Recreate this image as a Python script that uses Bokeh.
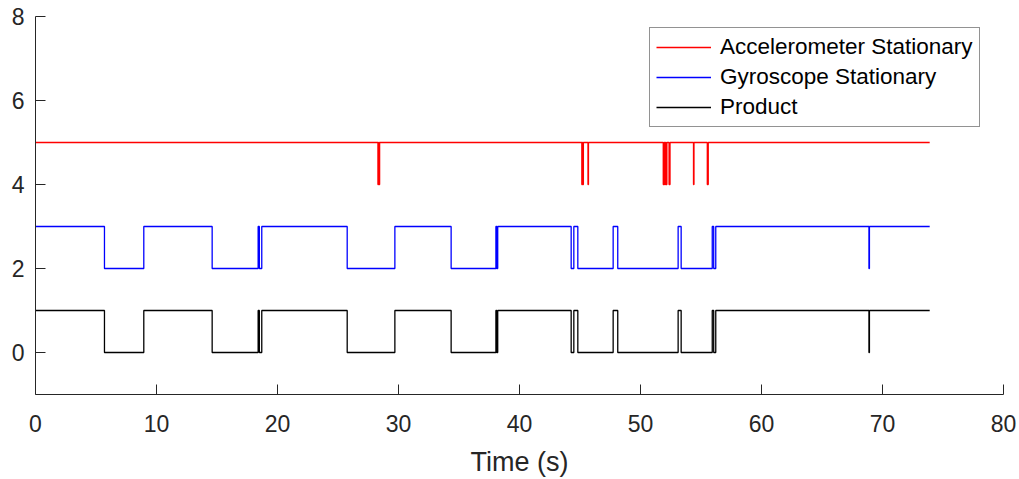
from bokeh.plotting import figure
from bokeh.models import FixedTicker, Legend, LegendItem, Range1d
from bokeh.embed import file_html
from bokeh.resources import INLINE

# ---- data (times in seconds) ----
t_end = 73.9
series_names = ["Accelerometer Stationary", "Gyroscope Stationary", "Product"]
series_colors = ["#FF0000", "#0000FF", "#000000"]
series_offsets = [4, 2, 0]

# intervals where the accelerometer is NOT stationary (value 0)
acc_moving = [(28.30, 28.36), (28.40, 28.44),
              (45.15, 45.20), (45.24, 45.28), (45.66, 45.70),
              (51.88, 51.95), (52.00, 52.06), (52.11, 52.18), (52.36, 52.44),
              (54.38, 54.42), (55.52, 55.60)]

# intervals where the gyroscope is NOT stationary (value 0)
gyro_moving = [(5.70, 8.95), (14.60, 18.40), (18.50, 18.70), (25.76, 29.70),
               (34.35, 38.05), (38.12, 38.20), (44.27, 44.49), (44.82, 47.74),
               (48.12, 53.11), (53.36, 55.93), (56.05, 56.22), (68.88, 68.92)]

x_ticks = [0, 10, 20, 30, 40, 50, 60, 70, 80]
y_ticks = [0, 2, 4, 6, 8]


def merge(intervals):
    out = []
    for s, e in sorted(intervals):
        if out and s <= out[-1][1]:
            out[-1] = (out[-1][0], max(out[-1][1], e))
        else:
            out.append((s, e))
    return out


# product = accelerometer stationary AND gyroscope stationary
prod_moving = merge(acc_moving + gyro_moving)


def step_xy(intervals, offset):
    xs, ys = [0.0], [1 + offset]
    for s, e in intervals:
        xs += [s, s, e, e]
        ys += [1 + offset, 0 + offset, 0 + offset, 1 + offset]
    xs.append(t_end)
    ys.append(1 + offset)
    return xs, ys


p = figure(width=1019, height=479, output_backend="svg", toolbar_location=None,
           x_range=Range1d(0, 80), y_range=Range1d(-1, 8),
           min_border_left=35, min_border_right=16, min_border_top=16,
           min_border_bottom=82)
p.outline_line_color = None
p.grid.visible = False
p.background_fill_color = "white"
p.border_fill_color = "white"

renderers = []
for ints, off, col in zip([acc_moving, gyro_moving, prod_moving],
                          series_offsets, series_colors):
    xs, ys = step_xy(ints, off)
    renderers.append(p.line(xs, ys, line_color=col, line_width=1.3))

FONT = "Liberation Sans"
TXT = "#262626"
for ax in (p.xaxis[0], p.yaxis[0]):
    ax.axis_line_color = TXT
    ax.axis_line_width = 1
    ax.major_tick_line_color = TXT
    ax.major_tick_in = 10
    ax.major_tick_out = 0
    ax.minor_tick_line_color = None
    ax.major_label_text_font = FONT
    ax.major_label_text_font_size = "23px"
    ax.major_label_text_color = TXT
    ax.axis_label_text_font = FONT
    ax.axis_label_text_font_style = "normal"
    ax.axis_label_text_color = TXT

p.xaxis[0].ticker = FixedTicker(ticks=x_ticks)
p.yaxis[0].ticker = FixedTicker(ticks=y_ticks)
p.xaxis[0].major_label_standoff = 20
p.yaxis[0].major_label_standoff = 11
p.xaxis[0].axis_label = "Time (s)"
p.xaxis[0].axis_label_text_font_size = "27px"
p.xaxis[0].axis_label_standoff = 12

legend = Legend(items=[LegendItem(label=n, renderers=[r])
                       for n, r in zip(series_names, renderers)],
                location=(614, 267))
legend.label_text_font = FONT
legend.label_text_font_size = "22.5px"
legend.label_text_color = "#000000"
legend.label_height = 26
legend.glyph_height = 26
legend.glyph_width = 55
legend.label_standoff = 9
legend.spacing = 4
legend.padding = 6
legend.margin = 0
legend.border_line_color = TXT
legend.border_line_width = 1
legend.background_fill_color = "white"
legend.background_fill_alpha = 1
p.add_layout(legend)

open("out.html", "w").write(file_html(p, INLINE))
